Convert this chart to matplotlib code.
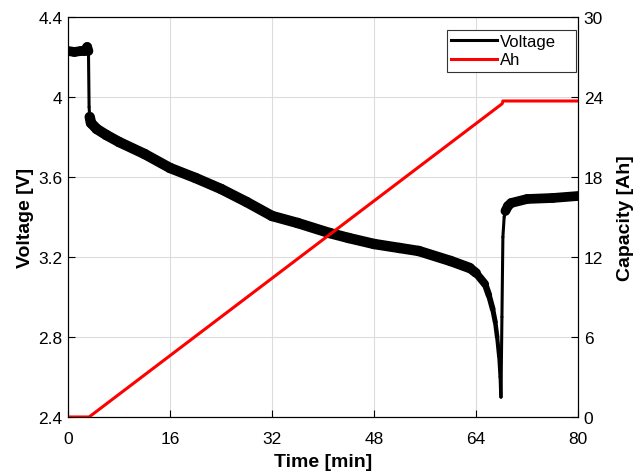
import matplotlib
matplotlib.use("Agg")
import matplotlib.pyplot as plt
import numpy as np
from matplotlib.collections import LineCollection
from matplotlib.lines import Line2D

plt.rcParams['font.family'] = ['Liberation Sans', 'DejaVu Sans']

# Datos (tiempo en min)
tiempo_v = [0, 1, 2, 2.6, 3.0, 3.2, 3.3, 3.4, 3.6, 4.5, 6, 8, 12, 16, 20, 24, 28, 32,
            36, 41, 44, 48, 52, 55, 60, 63, 64, 65.4, 66.0, 66.6, 67.0, 67.3, 67.6,
            67.8, 67.9, 68.05, 68.2, 68.4, 68.6, 69, 69.5, 72, 76, 80]
voltaje = [4.23, 4.225, 4.23, 4.23, 4.25, 4.23, 3.95, 3.9, 3.87, 3.84, 3.81, 3.775,
           3.715, 3.645, 3.595, 3.54, 3.475, 3.405, 3.37, 3.32, 3.295, 3.265, 3.245,
           3.23, 3.18, 3.145, 3.12, 3.065, 3.01, 2.94, 2.875, 2.80, 2.705, 2.60,
           2.50, 2.9, 3.3, 3.40, 3.43, 3.455, 3.47, 3.49, 3.495, 3.505]

tiempo_ah = [0, 3.3, 68.1, 68.2, 80]
capacidad = [0, 0, 23.5, 23.7, 23.7]


def ancho_banda(t):
    """ancho (pt) del trazo segun el tramo, para imitar el ruido de la medicion"""
    if t < 3.25:
        return 7.0
    if t < 3.5:
        return 2.2
    if t < 63:
        return 7.5
    if t < 67.9:
        return 7.5 - (t - 63) / 4.9 * 5.0
    if t < 68.7:
        return 2.2
    return 7.0


fig = plt.figure(figsize=(6.36, 4.77), dpi=100)
ax = fig.add_axes([0.107, 0.1237, 0.802, 0.8386])
ax2 = ax.twinx()

puntos = np.column_stack([tiempo_v, voltaje])
segmentos = np.stack([puntos[:-1], puntos[1:]], axis=1)
anchos = [ancho_banda(0.5 * (a + b)) for a, b in zip(tiempo_v[:-1], tiempo_v[1:])]
lc = LineCollection(segmentos, colors='black', linewidths=anchos,
                    capstyle='round', joinstyle='round', zorder=3)
ax.add_collection(lc)

ax2.plot(tiempo_ah, capacidad, color='red', lw=2.2)

ax.set_xlim(0, 80)
ax.set_ylim(2.4, 4.4)
ax2.set_ylim(0, 30)
ax.set_xticks([0, 16, 32, 48, 64, 80])
ax.set_yticks([2.4, 2.8, 3.2, 3.6, 4.0, 4.4])
ax.set_yticklabels(['2.4', '2.8', '3.2', '3.6', '4', '4.4'])
ax2.set_yticks([0, 6, 12, 18, 24, 30])

for a in (ax, ax2):
    a.tick_params(direction='in', length=5, labelsize=12.5, width=0.8)
    for s in a.spines.values():
        s.set_linewidth(0.8)
ax.tick_params(axis='x', pad=10)
ax.tick_params(axis='y', pad=4)
ax2.tick_params(axis='y', pad=4)

ax.grid(True, color='#dcdcdc', lw=0.8)
ax.set_axisbelow(True)

ax.set_xlabel('Time [min]', fontsize=14, fontweight='bold', labelpad=5)
ax.set_ylabel('Voltage [V]', fontsize=14, fontweight='bold', labelpad=3)
ax2.set_ylabel('Capacity [Ah]', fontsize=14, fontweight='bold', labelpad=10)

manejadores = [Line2D([], [], color='black', lw=2.2), Line2D([], [], color='red', lw=2.2)]
leg = ax2.legend(manejadores, ['Voltage', 'Ah'], loc='upper left',
                 bbox_to_anchor=(0.743, 0.0, 0.253, 0.9675), mode='expand',
                 fontsize=12, frameon=True,
                 fancybox=False, framealpha=1, edgecolor='#333333',
                 handlelength=2.75, handletextpad=0.15, borderpad=0.25,
                 labelspacing=0.2, borderaxespad=0)
leg.get_frame().set_linewidth(0.8)

fig.savefig('out.png', dpi=100)
